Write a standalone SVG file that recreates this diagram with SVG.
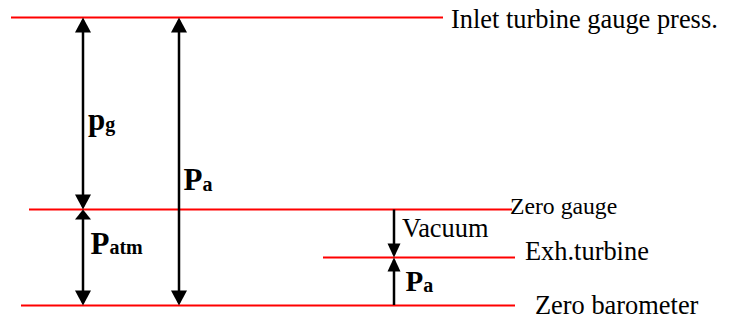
<svg xmlns="http://www.w3.org/2000/svg" width="734" height="320" viewBox="0 0 734 320">
  <defs>
    <style>
      .lvl { stroke: #ff0000; stroke-width: 2; fill: none; }
      .arr { stroke: #000; stroke-width: 2.5; fill: none; }
      .lbl { font-family: "Liberation Serif", "Times New Roman", serif; font-size: 26.4px; fill: #000; }
      .sym { font-family: "Liberation Serif", "Times New Roman", serif; font-weight: bold; fill: #000; }
    </style>
    <marker id="big" markerUnits="userSpaceOnUse" markerWidth="15" markerHeight="16" refX="12" refY="8" orient="auto-start-reverse" overflow="visible">
      <path d="M0,0 L15,8 L0,16 Z" fill="#000"/>
    </marker>
    <marker id="short" markerUnits="userSpaceOnUse" markerWidth="10" markerHeight="16" refX="7" refY="8" orient="auto-start-reverse" overflow="visible">
      <path d="M0,0 L10,8 L0,16 Z" fill="#000"/>
    </marker>
    <marker id="small" markerUnits="userSpaceOnUse" markerWidth="14" markerHeight="13" refX="11" refY="6.5" orient="auto-start-reverse" overflow="visible">
      <path d="M0,0 L14,6.5 L0,13 Z" fill="#000"/>
    </marker>
  </defs>
  <rect width="734" height="320" fill="#fff"/>

  <g id="inlet">
    <line class="lvl" x1="11" y1="17.5" x2="443" y2="17.5"/>
    <text class="lbl" x="451" y="27.5">Inlet turbine gauge press.</text>
  </g>
  <g id="zero-gauge">
    <line class="lvl" x1="29" y1="209.5" x2="512" y2="209.5"/>
    <text class="lbl" x="510" y="214" style="font-size:23.7px">Zero gauge</text>
  </g>
  <g id="exh-turbine">
    <line class="lvl" x1="323" y1="257.5" x2="515" y2="257.5"/>
    <text class="lbl" x="525" y="260">Exh.turbine</text>
  </g>
  <g id="zero-barometer">
    <line class="lvl" x1="21" y1="305.5" x2="515" y2="305.5"/>
    <text class="lbl" x="535" y="314">Zero barometer</text>
  </g>

  <g id="connectors">
    <line class="arr" x1="83" y1="20.5" x2="83" y2="206.5" marker-start="url(#big)" marker-end="url(#big)"/>
    <line class="arr" x1="83" y1="212.5" x2="83" y2="302.5" marker-start="url(#short)" marker-end="url(#big)"/>
    <line class="arr" x1="179" y1="20.5" x2="179" y2="302.5" marker-start="url(#big)" marker-end="url(#big)"/>
    <line class="arr" x1="394" y1="209.5" x2="394" y2="254.5" marker-end="url(#small)"/>
    <line class="arr" x1="394" y1="305" x2="394" y2="260.5" marker-end="url(#small)"/>
  </g>

  <g id="labels">
    <text class="sym" x="88" y="130" font-size="31">p<tspan font-size="20" dy="1">g</tspan></text>
    <text class="sym" x="183.5" y="190" font-size="31">P<tspan font-size="20" dy="1">a</tspan></text>
    <text class="sym" x="90.5" y="254" font-size="31">P<tspan font-size="20" dy="0">atm</tspan></text>
    <text class="lbl" x="402" y="237">Vacuum</text>
    <text class="sym" x="405.5" y="291" font-size="29">P<tspan font-size="20" dy="1">a</tspan></text>
  </g>
</svg>
